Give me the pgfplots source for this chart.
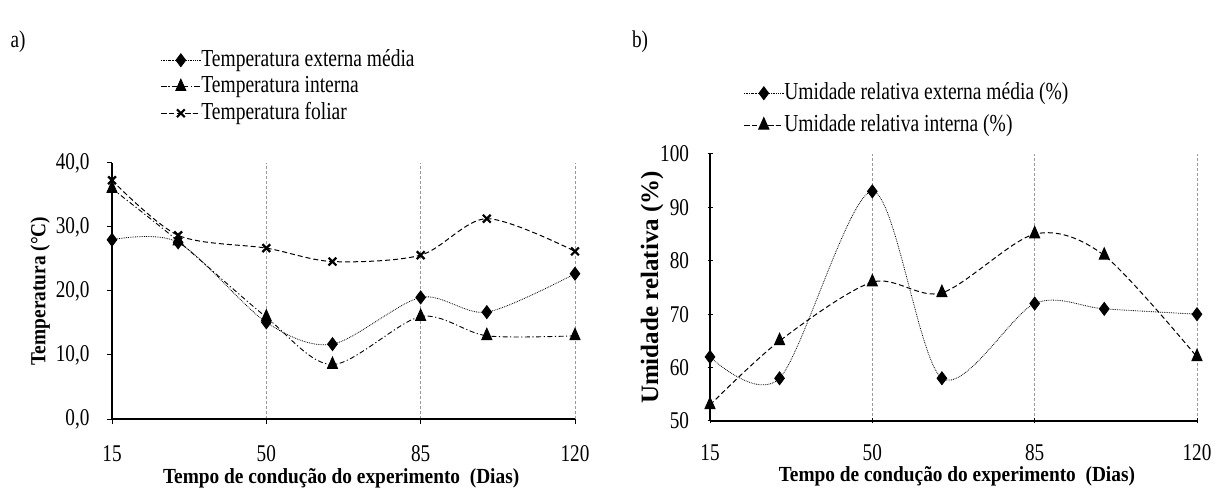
\documentclass[border=0pt]{standalone}
\usepackage{fontspec}
\setmainfont{Liberation Serif}[FakeStretch=0.8]
\newfontfamily\rotulo{Liberation Serif}[FakeStretch=0.9]
\newfontfamily\rotulolargo{Liberation Serif}
\usepackage{pgfplots}
\pgfplotsset{compat=1.18}

% day of the experiment and measured values
\pgfplotstableread{
dia  text  tint  tfol
15   28.0  36.0  37.3
30   27.6  27.8  28.7
50   15.1  15.9  26.7
65   11.7   8.5  24.6
85   19.0  16.0  25.6
100  16.7  13.0  31.3
120  22.7  13.0  26.2
}\temperatura

\pgfplotstableread{
dia  urext urint
15   62    53
30   58    65
50   93    76
65   58    74
85   72    85
100  71    81
120  70    62
}\umidade

\pgfplotsset{
  painel/.style={
    scale only axis,
    axis x line*=bottom,
    axis y line*=left,
    axis line style={-, line width=1.1pt},
    xmin=15, xmax=120,
    xtick={15,50,85,120},
    xmajorgrids,
    major x grid style={densely dashed, gray!80, line width=0.6pt},
    major tick length=5pt,
    tick style={black, line width=1pt},
    tick label style={font=\fontsize{24}{24}\selectfont},
    xticklabel style={yshift=-18pt},
    /pgf/number format/assume math mode=true,
    legend style={draw=none, fill=none, inner sep=0pt,
      font=\fontsize{24.4}{25}\selectfont, legend cell align=left,
      nodes={inner sep=0pt, text height=17pt, text depth=5pt},
      /tikz/every even column/.append style={column sep=6pt}},
    legend image code/.code={
      \draw[mark repeat=2, mark phase=2] plot coordinates {(0pt,0pt) (20pt,0pt) (40pt,0pt)};
    },
  },
  ext/.style={black, densely dotted, line width=0.8pt, smooth,
    mark=diamond*, mark size=6.5pt, mark options={solid, fill=black}},
  intdd/.style={black, dash pattern=on 5pt off 2.5pt on 1.2pt off 2.5pt, line width=0.9pt, smooth,
    mark=triangle*, mark size=5.8pt, mark options={solid, fill=black, yscale=1.3}},
  intd/.style={black, dash pattern=on 5pt off 3pt, line width=1pt, smooth,
    mark=triangle*, mark size=5.8pt, mark options={solid, fill=black, yscale=1.3}},
  fol/.style={black, dash pattern=on 5pt off 3pt, line width=1pt, smooth,
    mark=x, mark size=5.5pt, mark options={solid, line width=2.2pt}},
}

\begin{document}
\begin{tikzpicture}[x=1pt, y=1pt]
\path[use as bounding box] (0,0) rectangle (1216,490);

\node[font=\fontsize{24}{24}\selectfont] at (18,448) {a)};
\node[font=\fontsize{24}{24}\selectfont] at (640,448) {b)};

% a) temperatures
\begin{axis}[painel,
  at={(112pt,71pt)}, anchor=south west,
  width=463pt, height=256pt,
  ymin=0, ymax=40, ytick={0,10,...,40},
  tick align=outside,
  yticklabel style={xshift=-14pt, /pgf/number format/.cd, fixed, fixed zerofill, precision=1, use comma},
  xlabel={Tempo de condução do experimento\ \ (Dias)},
  ylabel={Temperatura (°C)},
  xlabel style={font=\fontsize{21.5}{22}\rotulo\bfseries, at={(axis description cs:0.495,-0.232)}, anchor=center},
  ylabel style={font=\fontsize{21.5}{22}\rotulo\bfseries, at={(axis description cs:-0.155,0.5)}, anchor=center},
  legend style={at={(axis description cs:0.104,1.445)}, anchor=north west, row sep=4.5pt},
]
\addplot[ext]   table[x=dia, y=text] {\temperatura};
\addplot[intdd] table[x=dia, y=tint] {\temperatura};
\addplot[fol]   table[x=dia, y=tfol] {\temperatura};
\legend{Temperatura externa média, Temperatura interna, Temperatura foliar}
\end{axis}

% b) relative humidity
\begin{axis}[painel,
  at={(710pt,69pt)}, anchor=south west,
  width=487pt, height=267pt,
  ymin=50, ymax=100, ytick={50,60,...,100},
  tick align=center,
  yticklabel style={xshift=-15pt},
  xlabel={Tempo de condução do experimento\ \ (Dias)},
  ylabel={Umidade relativa (\%)},
  xlabel style={font=\fontsize{21.5}{22}\rotulo\bfseries, at={(axis description cs:0.507,-0.206)}, anchor=center},
  ylabel style={font=\fontsize{25}{26}\rotulolargo\bfseries, at={(axis description cs:-0.119,0.5)}, anchor=center},
  legend style={at={(axis description cs:0.068,1.2695)}, anchor=north west, row sep=10pt},
]
\addplot[ext]  table[x=dia, y=urext] {\umidade};
\addplot[intd] table[x=dia, y=urint] {\umidade};
\legend{Umidade relativa externa média (\%), Umidade relativa interna (\%)}
\end{axis}
\end{tikzpicture}
\end{document}
